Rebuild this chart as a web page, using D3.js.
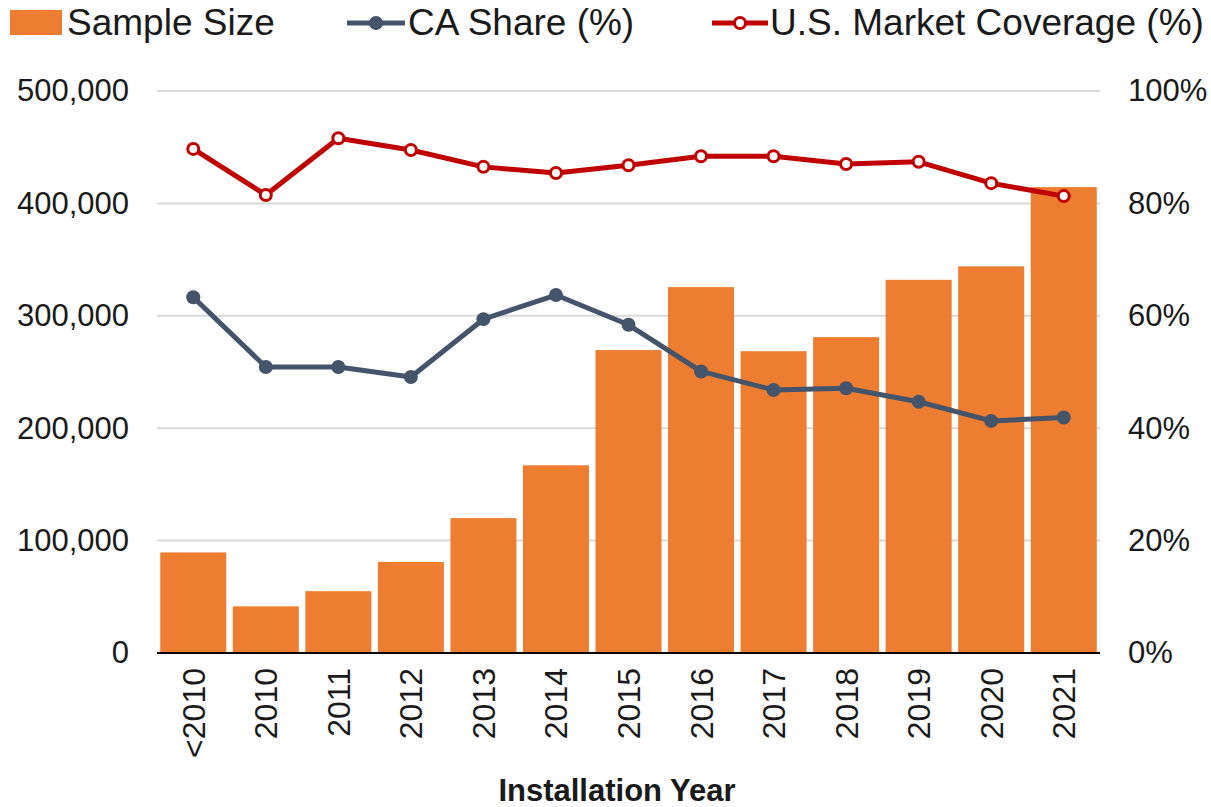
<!DOCTYPE html>
<html><head><meta charset="utf-8">
<script src="https://cdn.jsdelivr.net/npm/d3@7"></script>
<style>body{margin:0;background:#fff;} text{font-family:"Liberation Sans",Arial,sans-serif;}</style>
</head><body>
<svg id="c" width="1211" height="807"></svg>
<script>
const categories = ["<2010","2010","2011","2012","2013","2014","2015","2016","2017","2018","2019","2020","2021"];
const sampleSize = [89500,41500,55000,81000,120000,167000,269500,325500,268500,281000,332000,344000,414500];
const caShare = [63.3,50.9,50.9,49.1,59.4,63.7,58.4,50.1,46.8,47.1,44.7,41.3,41.9];
const usCoverage = [89.7,81.5,91.6,89.5,86.5,85.4,86.8,88.4,88.4,87.0,87.4,83.6,81.3];
const leftTicks = [0,100000,200000,300000,400000,500000];
const rightTicks = [0,20,40,60,80,100];

const svg = d3.select("#c");
const L = 157, R = 1100, T = 91, B = 653;
const x = d3.scaleBand().domain(categories).range([L,R]).paddingInner(0.09).paddingOuter(0.045);
const yL = d3.scaleLinear().domain([0,500000]).range([B,T]);
const yR = d3.scaleLinear().domain([0,100]).range([B,T]);
const cx = c => x(c) + x.bandwidth()/2;

// gridlines
svg.append("g").selectAll("line").data(leftTicks.filter(d=>d>0)).join("line")
  .attr("x1",L).attr("x2",R).attr("y1",d=>yL(d)).attr("y2",d=>yL(d))
  .attr("stroke","#d9d9d9").attr("stroke-width",2);

// bars
svg.append("g").selectAll("rect").data(categories).join("rect")
  .attr("x",d=>x(d)).attr("width",x.bandwidth())
  .attr("y",(d,i)=>yL(sampleSize[i])).attr("height",(d,i)=>B-yL(sampleSize[i]))
  .attr("fill","#ED7D31");

// baseline
svg.append("line").attr("x1",L).attr("x2",R).attr("y1",B).attr("y2",B).attr("stroke","#000").attr("stroke-width",2);

// left axis
const la = svg.append("g").attr("transform",`translate(${L},0)`)
  .call(d3.axisLeft(yL).tickValues(leftTicks).tickSize(0).tickPadding(28).tickFormat(d3.format(",")));
la.select(".domain").remove();
la.selectAll("text").attr("font-size",31).attr("fill","#1a1a1a").attr("font-family","Liberation Sans, Arial, sans-serif");

// right axis
const ra = svg.append("g").attr("transform",`translate(${R},0)`)
  .call(d3.axisRight(yR).tickValues(rightTicks).tickSize(0).tickPadding(28).tickFormat(d=>d+"%"));
ra.select(".domain").remove();
ra.selectAll("text").attr("font-size",31).attr("fill","#1a1a1a").attr("font-family","Liberation Sans, Arial, sans-serif");

// x axis
const xa = svg.append("g").attr("transform",`translate(0,${B})`)
  .call(d3.axisBottom(x).tickSize(0).tickPadding(0));
xa.select(".domain").remove();
xa.selectAll("text").attr("font-size",32).attr("fill","#1a1a1a").attr("font-family","Liberation Sans, Arial, sans-serif")
  .attr("transform","rotate(-90)").attr("text-anchor","end").attr("dy","0.36em").attr("x",-15).attr("y",0);

svg.append("text").attr("x",617).attr("y",801).attr("text-anchor","middle")
  .attr("font-size",31).attr("font-weight","bold").attr("fill","#1a1a1a").text("Installation Year");

// lines
const line = arr => d3.line().x((d,i)=>cx(categories[i])).y(d=>yR(d))(arr);
svg.append("path").attr("d",line(caShare)).attr("fill","none").attr("stroke","#44546A").attr("stroke-width",5).attr("stroke-linejoin","round");
svg.append("g").selectAll("circle").data(caShare).join("circle")
  .attr("cx",(d,i)=>cx(categories[i])).attr("cy",d=>yR(d)).attr("r",7).attr("fill","#44546A");

svg.append("path").attr("d",line(usCoverage)).attr("fill","none").attr("stroke","#C00000").attr("stroke-width",5).attr("stroke-linejoin","round");
svg.append("g").selectAll("circle").data(usCoverage).join("circle")
  .attr("cx",(d,i)=>cx(categories[i])).attr("cy",d=>yR(d)).attr("r",5.5).attr("fill","#fff").attr("stroke","#C00000").attr("stroke-width",3);

// legend
const lg = svg.append("g");
lg.append("rect").attr("x",10).attr("y",10).attr("width",52).attr("height",25).attr("fill","#ED7D31");
lg.append("text").attr("x",67).attr("y",35).attr("font-size",37).attr("fill","#1a1a1a").text("Sample Size");
lg.append("line").attr("x1",347).attr("x2",405).attr("y1",23).attr("y2",23).attr("stroke","#44546A").attr("stroke-width",5);
lg.append("circle").attr("cx",376).attr("cy",23).attr("r",7).attr("fill","#44546A");
lg.append("text").attr("x",408).attr("y",35).attr("font-size",37).attr("fill","#1a1a1a").text("CA Share (%)");
lg.append("line").attr("x1",712).attr("x2",768).attr("y1",23).attr("y2",23).attr("stroke","#C00000").attr("stroke-width",5);
lg.append("circle").attr("cx",740).attr("cy",23).attr("r",5.5).attr("fill","#fff").attr("stroke","#C00000").attr("stroke-width",3);
lg.append("text").attr("x",770).attr("y",35).attr("font-size",37).attr("fill","#1a1a1a").text("U.S. Market Coverage (%)");
</script>
</body></html>
